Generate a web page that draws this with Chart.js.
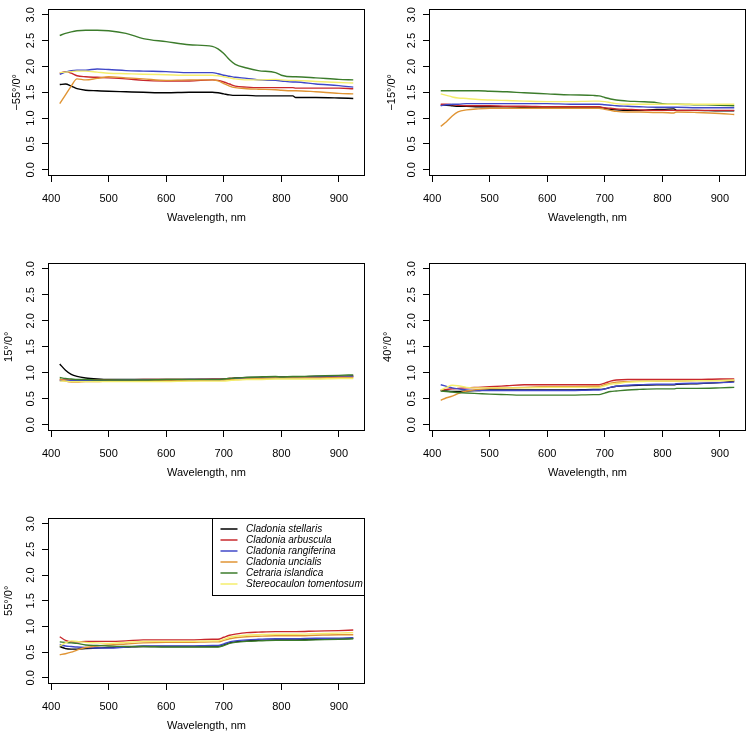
<!DOCTYPE html>
<html>
<head>
<meta charset="utf-8">
<script src="https://cdn.jsdelivr.net/npm/chart.js@4.4.1/dist/chart.umd.min.js"></script>
<style>
  body { margin: 0; background: #fff; width: 750px; height: 733px; overflow: hidden; }
  .panel { position: absolute; }
</style>
</head>
<body>
<div class="panel" id="p1"><canvas id="c1"></canvas></div>
<div class="panel" id="p2"><canvas id="c2"></canvas></div>
<div class="panel" id="p3"><canvas id="c3"></canvas></div>
<div class="panel" id="p4"><canvas id="c4"></canvas></div>
<div class="panel" id="p5"><canvas id="c5"></canvas></div>
<script>
const wavelengths = [415, 425, 435, 445, 460, 480, 500, 530, 560, 600, 640, 680, 690, 700, 710, 720, 740, 760, 790, 800, 820, 825, 860, 900, 925];
const species = ['Cladonia stellaris', 'Cladonia arbuscula', 'Cladonia rangiferina', 'Cladonia uncialis', 'Cetraria islandica', 'Stereocaulon tomentosum'];
const colors = ['#000000', '#c8282c', '#4048c8', '#e09434', '#3c7c2c', '#f4ee6c'];
const xTicks = [400, 500, 600, 700, 800, 900];
const yTicks = [0, 0.5, 1, 1.5, 2, 2.5, 3];

// one row per species, same order as above
const minus55 = [
  [1.65,1.66,1.62,1.57,1.54,1.53,1.52,1.51,1.50,1.49,1.50,1.50,1.49,1.47,1.45,1.44,1.44,1.43,1.43,1.43,1.43,1.40,1.40,1.39,1.38],
  [1.87,1.90,1.87,1.82,1.80,1.79,1.78,1.76,1.73,1.72,1.72,1.74,1.73,1.70,1.66,1.62,1.60,1.59,1.59,1.59,1.59,1.58,1.58,1.58,1.57],
  [1.85,1.89,1.92,1.93,1.93,1.95,1.94,1.92,1.91,1.90,1.88,1.88,1.86,1.83,1.81,1.79,1.77,1.74,1.73,1.72,1.70,1.70,1.66,1.63,1.60],
  [1.28,1.45,1.62,1.76,1.74,1.77,1.80,1.78,1.76,1.73,1.74,1.74,1.72,1.67,1.62,1.59,1.57,1.56,1.55,1.54,1.53,1.53,1.51,1.48,1.47],
  [2.60,2.64,2.67,2.69,2.70,2.70,2.69,2.64,2.54,2.48,2.42,2.39,2.34,2.25,2.13,2.04,1.97,1.92,1.88,1.83,1.80,1.80,1.78,1.75,1.74],
  [1.88,1.89,1.90,1.91,1.91,1.89,1.87,1.86,1.85,1.84,1.83,1.83,1.82,1.80,1.78,1.76,1.74,1.74,1.75,1.74,1.73,1.73,1.71,1.69,1.68]
];
const minus15 = [
  [1.25,1.25,1.24,1.23,1.23,1.22,1.22,1.22,1.21,1.21,1.21,1.21,1.21,1.19,1.17,1.16,1.15,1.15,1.17,1.17,1.18,1.15,1.15,1.14,1.14],
  [1.27,1.27,1.26,1.25,1.24,1.24,1.24,1.23,1.23,1.22,1.22,1.22,1.22,1.20,1.19,1.18,1.17,1.16,1.15,1.15,1.15,1.15,1.15,1.15,1.15],
  [1.24,1.26,1.27,1.27,1.28,1.28,1.28,1.28,1.28,1.28,1.27,1.27,1.27,1.26,1.25,1.24,1.23,1.22,1.21,1.21,1.21,1.21,1.20,1.20,1.20],
  [0.84,0.93,1.04,1.12,1.16,1.18,1.19,1.19,1.19,1.19,1.19,1.19,1.19,1.17,1.15,1.13,1.12,1.12,1.11,1.11,1.10,1.12,1.11,1.09,1.07],
  [1.53,1.53,1.53,1.53,1.53,1.53,1.52,1.51,1.49,1.47,1.45,1.44,1.43,1.40,1.37,1.35,1.33,1.32,1.30,1.28,1.27,1.27,1.26,1.25,1.24],
  [1.47,1.44,1.41,1.39,1.38,1.36,1.35,1.34,1.33,1.32,1.32,1.33,1.33,1.32,1.30,1.28,1.27,1.27,1.27,1.27,1.27,1.27,1.27,1.27,1.27]
];
const plus15 = [
  [1.17,1.05,0.97,0.93,0.90,0.88,0.87,0.87,0.87,0.87,0.87,0.87,0.87,0.88,0.89,0.90,0.91,0.91,0.92,0.92,0.92,0.92,0.93,0.93,0.94],
  [0.86,0.86,0.86,0.86,0.86,0.86,0.86,0.86,0.87,0.87,0.87,0.88,0.88,0.88,0.89,0.89,0.90,0.90,0.91,0.91,0.91,0.91,0.92,0.92,0.93],
  [0.85,0.85,0.85,0.85,0.85,0.85,0.85,0.86,0.86,0.86,0.87,0.87,0.87,0.87,0.88,0.89,0.90,0.90,0.91,0.91,0.91,0.91,0.92,0.92,0.93],
  [0.88,0.84,0.82,0.82,0.83,0.83,0.84,0.84,0.85,0.85,0.85,0.86,0.86,0.86,0.87,0.87,0.88,0.89,0.90,0.90,0.90,0.90,0.90,0.91,0.91],
  [0.91,0.89,0.88,0.87,0.87,0.86,0.86,0.86,0.86,0.87,0.87,0.87,0.87,0.88,0.89,0.90,0.91,0.92,0.93,0.92,0.93,0.93,0.94,0.95,0.96],
  [0.84,0.84,0.83,0.83,0.83,0.83,0.83,0.83,0.83,0.83,0.84,0.84,0.84,0.84,0.85,0.86,0.87,0.87,0.88,0.88,0.88,0.88,0.88,0.89,0.89]
];
const plus40 = [
  [0.66,0.65,0.64,0.64,0.65,0.66,0.67,0.67,0.67,0.67,0.67,0.68,0.68,0.69,0.72,0.74,0.75,0.76,0.77,0.77,0.77,0.78,0.79,0.81,0.84],
  [0.66,0.68,0.69,0.70,0.71,0.72,0.73,0.75,0.77,0.77,0.77,0.77,0.77,0.80,0.84,0.86,0.87,0.87,0.87,0.87,0.87,0.87,0.87,0.88,0.88],
  [0.77,0.74,0.71,0.69,0.67,0.66,0.66,0.66,0.66,0.66,0.66,0.67,0.67,0.69,0.72,0.74,0.76,0.77,0.78,0.78,0.78,0.79,0.80,0.81,0.82],
  [0.47,0.52,0.55,0.60,0.65,0.68,0.70,0.71,0.72,0.73,0.73,0.74,0.74,0.77,0.80,0.82,0.83,0.84,0.84,0.84,0.84,0.84,0.85,0.85,0.85],
  [0.65,0.64,0.63,0.62,0.61,0.60,0.59,0.58,0.57,0.57,0.57,0.58,0.58,0.61,0.64,0.65,0.67,0.68,0.69,0.69,0.69,0.70,0.70,0.71,0.72],
  [0.67,0.72,0.76,0.75,0.72,0.71,0.71,0.71,0.71,0.72,0.72,0.72,0.72,0.75,0.78,0.79,0.82,0.83,0.84,0.84,0.84,0.84,0.85,0.85,0.86]
];
const plus55 = [
  [0.61,0.57,0.56,0.56,0.57,0.58,0.59,0.60,0.61,0.61,0.61,0.61,0.61,0.64,0.68,0.70,0.72,0.73,0.74,0.74,0.74,0.74,0.75,0.76,0.77],
  [0.80,0.73,0.70,0.70,0.71,0.71,0.71,0.72,0.74,0.74,0.74,0.75,0.75,0.79,0.83,0.85,0.88,0.89,0.90,0.90,0.90,0.90,0.91,0.92,0.93],
  [0.65,0.62,0.61,0.60,0.59,0.58,0.58,0.60,0.62,0.62,0.62,0.63,0.63,0.66,0.70,0.72,0.74,0.75,0.76,0.76,0.76,0.76,0.77,0.77,0.78],
  [0.45,0.47,0.50,0.54,0.59,0.62,0.64,0.66,0.68,0.69,0.69,0.70,0.70,0.73,0.76,0.78,0.80,0.81,0.82,0.82,0.82,0.82,0.83,0.84,0.84],
  [0.70,0.69,0.68,0.67,0.64,0.63,0.62,0.61,0.61,0.60,0.60,0.60,0.60,0.63,0.67,0.69,0.71,0.72,0.73,0.73,0.73,0.73,0.74,0.75,0.76],
  [0.62,0.68,0.72,0.71,0.69,0.68,0.67,0.69,0.71,0.71,0.71,0.72,0.72,0.75,0.79,0.81,0.83,0.84,0.85,0.85,0.85,0.85,0.86,0.87,0.88]
];

Chart.defaults.font.family = '"Liberation Sans", Arial, Helvetica, sans-serif';
Chart.defaults.font.size = 11;
Chart.defaults.color = '#000';

// R style closed box round the plot region
const boxPlugin = {
  id: 'rBox',
  afterDraw(chart) {
    const a = chart.chartArea, ctx = chart.ctx;
    ctx.save();
    ctx.strokeStyle = '#000';
    ctx.lineWidth = 1;
    ctx.strokeRect(Math.round(a.left) + 0.5, Math.round(a.top) + 0.5,
                   Math.round(a.right - a.left) - 1, Math.round(a.bottom - a.top) - 1);
    ctx.restore();
  }
};

// legend box in the top right corner of the plot
const legendPlugin = {
  id: 'rLegend',
  afterDraw(chart, args, opts) {
    if (!opts.show) return;
    const a = chart.chartArea, ctx = chart.ctx;
    const w = 153, h = 77;
    const x = Math.round(a.right - w) + 0.5, y = Math.round(a.top) + 0.5;
    ctx.save();
    ctx.fillStyle = '#fff';
    ctx.fillRect(x, y, w - 1, h);
    ctx.strokeStyle = '#000';
    ctx.lineWidth = 1;
    ctx.strokeRect(x, y, w - 1, h);
    ctx.font = 'italic 10px "Liberation Sans", Arial, sans-serif';
    ctx.textBaseline = 'middle';
    ctx.textAlign = 'left';
    chart.data.datasets.forEach((ds, i) => {
      const cy = y + 10.5 + i * 11;
      ctx.strokeStyle = ds.borderColor;
      ctx.lineWidth = 1.5;
      ctx.beginPath();
      ctx.moveTo(x + 8, cy);
      ctx.lineTo(x + 25, cy);
      ctx.stroke();
      ctx.fillStyle = '#000';
      ctx.fillText(ds.label, x + 33.5, cy);
    });
    ctx.restore();
  }
};

// page geometry of each panel: column left edge, plot box edges, y title centre
const panels = [
  { canvas: 'c1', div: 'p1', values: minus55, title: '\u221255\u00b0/0\u00b0', col: 0,   L: 48,  T: 3,   R: 365, B: 176, tc: 16.5 },
  { canvas: 'c2', div: 'p2', values: minus15, title: '\u221215\u00b0/0\u00b0', col: 375, L: 429, T: 3,   R: 746, B: 176, tc: 16.5 },
  { canvas: 'c3', div: 'p3', values: plus15,  title: '15\u00b0/0\u00b0',       col: 0,   L: 48,  T: 257, R: 365, B: 431, tc: 9 },
  { canvas: 'c4', div: 'p4', values: plus40,  title: '40\u00b0/0\u00b0',       col: 375, L: 429, T: 257, R: 746, B: 431, tc: 13 },
  { canvas: 'c5', div: 'p5', values: plus55,  title: '55\u00b0/0\u00b0',       col: 0,   L: 48,  T: 512, R: 365, B: 684, tc: 8.5, legend: true }
];

panels.forEach(p => {
  const padTop = 4, padRight = 4, xAxisH = 62;
  const div = document.getElementById(p.div);
  const cv = document.getElementById(p.canvas);
  const w = p.R - p.col + padRight;
  const h = p.B - p.T + padTop + xAxisH;
  div.style.left = p.col + 'px';
  div.style.top = (p.T - padTop) + 'px';
  cv.width = w;
  cv.height = h;

  new Chart(cv, {
    type: 'line',
    data: {
      datasets: species.map((name, i) => ({
        label: name,
        data: wavelengths.map((wl, j) => ({ x: wl, y: p.values[i][j] })),
        borderColor: colors[i],
        borderWidth: 1.4,
        pointRadius: 0,
        cubicInterpolationMode: 'monotone',
        order: species.length - i
      }))
    },
    options: {
      responsive: false,
      animation: false,
      events: [],
      layout: { padding: { top: padTop, right: padRight, left: 0, bottom: 0 } },
      plugins: {
        legend: { display: false },
        tooltip: { enabled: false },
        rLegend: { show: !!p.legend }
      },
      scales: {
        x: {
          type: 'linear',
          min: 394.6,
          max: 945.4,
          afterBuildTicks: s => { s.ticks = xTicks.map(v => ({ value: v })); },
          afterFit: s => { s.height = xAxisH; },
          grid: { drawOnChartArea: false, drawTicks: true, tickLength: 6, color: '#000', lineWidth: 1 },
          border: { display: false },
          ticks: { padding: 10, maxRotation: 0, font: { size: 11 } },
          title: { display: true, text: 'Wavelength, nm', font: { size: 11 }, padding: { top: 0, bottom: 13.6 } }
        },
        y: {
          type: 'linear',
          min: -0.12,
          max: 3.12,
          afterBuildTicks: s => { s.ticks = yTicks.map(v => ({ value: v })); },
          afterFit: s => { s.width = p.L - p.col; },
          grid: { drawOnChartArea: false, drawTicks: true, tickLength: 6, color: '#000', lineWidth: 1 },
          border: { display: false },
          ticks: {
            minRotation: 90, maxRotation: 90, crossAlign: 'center', padding: 3,
            font: { size: 11 },
            callback: v => v.toFixed(1)
          },
          title: { display: true, text: p.title, font: { size: 11 }, padding: { top: p.tc - 6.6, bottom: 0 } }
        }
      }
    },
    plugins: [boxPlugin, legendPlugin]
  });
});
</script>
</body>
</html>
